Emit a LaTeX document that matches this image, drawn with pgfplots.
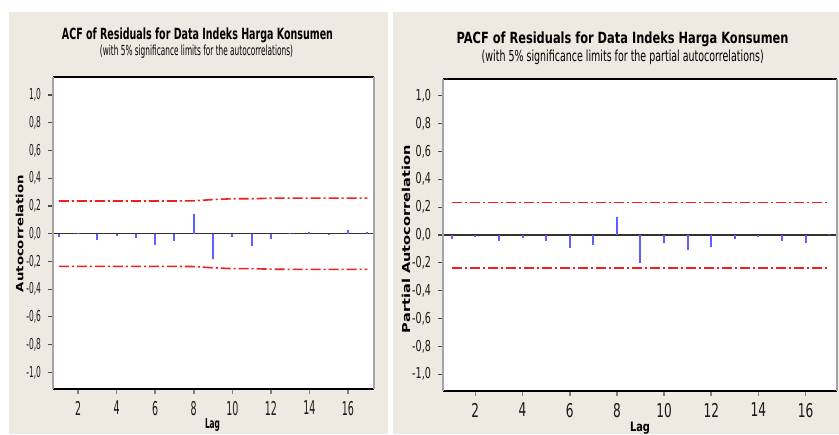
\documentclass[border=0pt]{standalone}
\usepackage{pgfplots}
\pgfplotsset{compat=1.18}
\usepackage{fontspec}
\usepackage{graphicx}
\setmainfont{DejaVu Sans}
\newfontfamily\tickL[FakeStretch=0.5]{DejaVu Sans}
\newfontfamily\tickR[FakeStretch=0.64]{DejaVu Sans}
\newdimen\px \px=0.5pt
\definecolor{panel}{RGB}{238,234,226}
\definecolor{spikeblue}{RGB}{95,95,255}
\definecolor{siglim}{RGB}{240,30,30}
\definecolor{frameg}{RGB}{165,165,165}

\pgfplotsset{
  minitab/.style={
    scale only axis, clip=false,
    axis background/.style={fill=white},
    axis line style={draw=none},
    ytick={-1,-0.8,-0.6,-0.4,-0.2,0,0.2,0.4,0.6,0.8,1},
    xtick={2,4,6,8,10,12,14,16},
    xtick pos=bottom, ytick pos=left,
    tick align=outside,
    major tick length=2.5pt,
    xtick style={draw=gray, line width=0.8pt},
    ytick style={draw=black!70, line width=0.6pt},
    /pgf/number format/assume math mode=true,
    yticklabel style={/pgf/number format/.cd, fixed, fixed zerofill, precision=1, use comma, /tikz/.cd},
    ticklabel style={text=black!90},
  },
  siglimit/.style={draw=siglim, line width=0.8pt, dash pattern=on 5pt off 1.5pt on 1pt off 1.5pt},
  spikes/.style={ycomb, draw=spikeblue, line width=1pt},
}
\newcommand{\minitabframe}{%
  \draw[black!80, line width=0.6pt] ({rel axis cs:0,0}|-{axis cs:1,0}) -- ({rel axis cs:1,0}|-{axis cs:1,0});
  \draw[black, line width=0.8pt] (rel axis cs:0,0) -- (rel axis cs:1,0);
  \draw[black, line width=0.8pt] (rel axis cs:0,1) -- (rel axis cs:1,1);
  \draw[frameg, line width=1pt] (rel axis cs:0,0) -- (rel axis cs:0,1);
  \draw[frameg, line width=1pt] (rel axis cs:1,0) -- (rel axis cs:1,1);
}

\begin{document}
\begin{tikzpicture}[x=0.5pt, y=0.5pt]
\path[use as bounding box, fill=white] (0,0) rectangle (839,434);
\fill[panel] (9,0) rectangle (388,422);
\fill[panel] (393,0) rectangle (839,422);

% === ACF ===
\begin{axis}[minitab,
  at={(26.5pt,22.5pt)}, anchor=south west,
  width=321\px, height=312\px,
  xmin=0.7, xmax=17.35, ymin=-1.12, ymax=1.13,
  xticklabel style={font=\tickL\fontsize{9.5}{10}\selectfont},
  yticklabel style={font=\tickL\fontsize{7.5}{8}\selectfont},
]
\minitabframe
\addplot[siglimit] coordinates {
  (1,0.236) (2,0.236) (3,0.236) (4,0.236) (5,0.236) (6,0.236) (7,0.236) (8,0.237)
  (9,0.246) (10,0.252) (11,0.252) (12,0.256) (13,0.257) (14,0.257) (15,0.257) (16,0.257) (17,0.257)
};
\addplot[siglimit] coordinates {
  (1,-0.236) (2,-0.236) (3,-0.236) (4,-0.236) (5,-0.236) (6,-0.236) (7,-0.236) (8,-0.237)
  (9,-0.246) (10,-0.252) (11,-0.252) (12,-0.256) (13,-0.257) (14,-0.257) (15,-0.257) (16,-0.257) (17,-0.257)
};
\addplot[spikes] coordinates {
  (1,-0.024) (2,0.007) (3,-0.042) (4,-0.014) (5,-0.031) (6,-0.082) (7,-0.054) (8,0.141)
  (9,-0.184) (10,-0.024) (11,-0.087) (12,-0.038) (13,0.002) (14,0.014) (15,-0.003) (16,0.024) (17,0.009)
};
\end{axis}

% === PACF ===
\begin{axis}[minitab,
  at={(221.5pt,21.5pt)}, anchor=south west,
  width=394\px, height=312\px,
  xmin=0.63, xmax=17.33, ymin=-1.12, ymax=1.12,
  xticklabel style={font=\tickR\fontsize{9.5}{10}\selectfont},
  yticklabel style={font=\tickR\fontsize{7.5}{8}\selectfont},
]
\minitabframe
\addplot[siglimit] coordinates {(1,0.232) (17,0.232)};
\addplot[siglimit] coordinates {(1,-0.238) (17,-0.238)};
\addplot[spikes] coordinates {
  (1,-0.028) (2,-0.012) (3,-0.045) (4,-0.019) (5,-0.040) (6,-0.092) (7,-0.073) (8,0.127)
  (9,-0.200) (10,-0.054) (11,-0.106) (12,-0.085) (13,-0.028) (14,-0.012) (15,-0.040) (16,-0.054) (17,0.010)
};
\end{axis}

% titles and labels
\node[anchor=base, inner sep=0] at (197.5,394.5) {\resizebox{271\px}{11.7\px}{\bfseries ACF of Residuals for Data Indeks Harga Konsumen}};
\node[anchor=base, inner sep=0] at (196.5,378.5) {\resizebox{193\px}{10.5\px}{(with 5\% significance limits for the autocorrelations)}};
\node[anchor=base, inner sep=0] at (622.5,390.7) {\resizebox{332\px}{11.7\px}{\bfseries PACF of Residuals for Data Indeks Harga Konsumen}};
\node[anchor=base, inner sep=0] at (622.7,372.5) {\resizebox{282\px}{11.5\px}{(with 5\% significance limits for the partial autocorrelations)}};
\node[rotate=90, anchor=base, inner sep=0] at (23.3,200.5) {\resizebox{117\px}{7.6\px}{\bfseries Autocorrelation}};
\node[rotate=90, anchor=base, inner sep=0] at (410,195) {\resizebox{188\px}{8.3\px}{\bfseries Partial Autocorrelation}};
\node[anchor=base, inner sep=0] at (212.5,6) {\resizebox{15\px}{10\px}{\bfseries Lag}};
\node[anchor=base, inner sep=0] at (640,3) {\resizebox{20\px}{9.5\px}{\bfseries Lag}};
\end{tikzpicture}
\end{document}
